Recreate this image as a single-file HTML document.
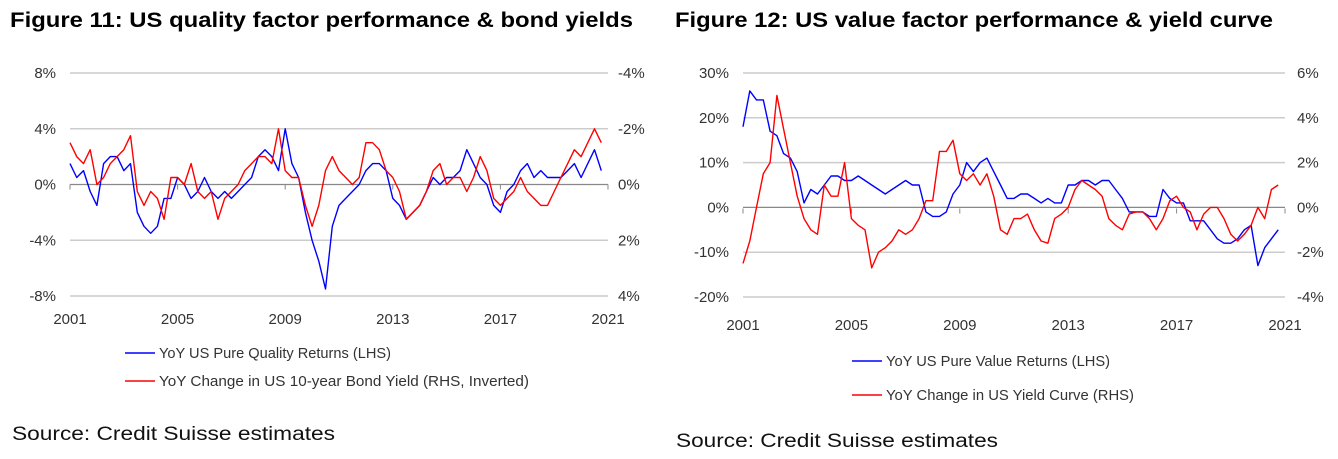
<!DOCTYPE html>
<html><head><meta charset="utf-8"><style>
body{margin:0;background:#fff;width:1338px;height:459px;overflow:hidden}
svg{display:block}
text{font-family:"Liberation Sans",sans-serif}
</style></head><body>
<svg id="s" width="1338" height="459">
<text x="10" y="27" font-size="21" font-weight="bold" fill="#000" textLength="623" lengthAdjust="spacingAndGlyphs">Figure 11: US quality factor performance &amp; bond yields</text>
<text x="675" y="27" font-size="21" font-weight="bold" fill="#000" textLength="598" lengthAdjust="spacingAndGlyphs">Figure 12: US value factor performance &amp; yield curve</text>
<text x="12" y="440" font-size="19" fill="#111" textLength="323" lengthAdjust="spacingAndGlyphs">Source: Credit Suisse estimates</text>
<text x="676" y="447" font-size="19" fill="#111" textLength="322" lengthAdjust="spacingAndGlyphs">Source: Credit Suisse estimates</text>
<g id="c1"></g>
<g id="c2"></g>
</svg>
<script>
const years=["2001","2005","2009","2013","2017","2021"];
const c1LeftTicks=["8%","4%","0%","-4%","-8%"];
const c1RightTicks=["-4%","-2%","0%","2%","4%"];
const c2LeftTicks=["30%","20%","10%","0%","-10%","-20%"];
const c2RightTicks=["6%","4%","2%","0%","-2%","-4%"];
const qualityReturns=[1.5,0.5,1.0,-0.5,-1.5,1.5,2.0,2.0,1.0,1.5,-2.0,-3.0,-3.5,-3.0,-1.0,-1.0,0.5,0,-1.0,-0.5,0.5,-0.5,-1.0,-0.5,-1.0,-0.5,0,0.5,2.0,2.5,2.0,1.0,4.0,1.5,0.5,-2.0,-4.0,-5.5,-7.5,-3.0,-1.5,-1.0,-0.5,0,1.0,1.5,1.5,1.0,-1.0,-1.5,-2.5,-2.0,-1.5,-0.5,0.5,0,0.5,0.5,1.0,2.5,1.5,0.5,0,-1.5,-2.0,-0.5,0,1.0,1.5,0.5,1.0,0.5,0.5,0.5,1.0,1.5,0.5,1.5,2.5,1.0];
const bondYieldChange=[-1.5,-1,-0.75,-1.25,0,-0.25,-0.75,-1,-1.25,-1.75,0.25,0.75,0.25,0.5,1.25,-0.25,-0.25,0,-0.75,0.25,0.5,0.25,1.25,0.5,0.25,0,-0.5,-0.75,-1,-1,-0.75,-2,-0.5,-0.25,-0.25,0.75,1.5,0.75,-0.5,-1,-0.5,-0.25,0,-0.25,-1.5,-1.5,-1.25,-0.5,-0.25,0.25,1.25,1,0.75,0.25,-0.5,-0.75,0,-0.25,-0.25,0.25,-0.25,-1,-0.5,0.5,0.75,0.5,0.25,-0.25,0.25,0.5,0.75,0.75,0.25,-0.25,-0.75,-1.25,-1,-1.5,-2,-1.5];
const valueReturns=[18,26,24,24,17,16,12,11,8,1,4,3,5,7,7,6,6,7,6,5,4,3,4,5,6,5,5,-1,-2,-2,-1,3,5,10,8,10,11,8,5,2,2,3,3,2,1,2,1,1,5,5,6,6,5,6,6,4,2,-1,-1,-1,-2,-2,4,2,1,1,-3,-3,-3,-5,-7,-8,-8,-7,-5,-4,-13,-9,-7,-5];
const curveChange=[-2.5,-1.5,0,1.5,2.0,5.0,3.5,2.0,0.5,-0.5,-1.0,-1.2,1.0,0.5,0.5,2.0,-0.5,-0.8,-1.0,-2.7,-2.0,-1.8,-1.5,-1.0,-1.2,-1.0,-0.5,0.3,0.3,2.5,2.5,3.0,1.5,1.2,1.5,1.0,1.5,0.5,-1.0,-1.2,-0.5,-0.5,-0.3,-1.0,-1.5,-1.6,-0.5,-0.3,0,0.8,1.2,1.0,0.8,0.5,-0.5,-0.8,-1.0,-0.3,-0.2,-0.2,-0.5,-1.0,-0.5,0.3,0.5,0,-0.2,-1.0,-0.3,0,0,-0.5,-1.2,-1.5,-1.2,-0.8,0,-0.5,0.8,1.0];
const NS="http://www.w3.org/2000/svg";
function mk(p,t,a){const e=document.createElementNS(NS,t);for(const k in a)e.setAttribute(k,a[k]);p.appendChild(e);return e;}
function chart(g,o){
  const xs=y=>o.x0+(y-2001)/20*(o.x1-o.x0);
  const yL=v=>o.yTop+(o.lMax-v)/(o.lMax-o.lMin)*(o.yBot-o.yTop);
  const yR=v=>o.yTop+(o.rMax-v)/(o.rMax-o.rMin)*(o.yBot-o.yTop);
  o.lt.forEach((t,i)=>{const y=o.yTop+i*(o.yBot-o.yTop)/(o.lt.length-1);
    const zero=(t==="0%");
    const gl=mk(g,"line",{x1:o.x0,x2:o.x1,y1:y,y2:y,stroke:zero?"#888":"#ccc","stroke-width":zero?1.2:1.5});
    
    
    const a=mk(g,"text",{x:o.x0-14,y:y+5,"font-size":15,fill:"#333","text-anchor":"end"});a.textContent=t;
    
    
    const b=mk(g,"text",{x:o.x1+(o.rOff||14),y:y+5,"font-size":15,fill:"#333","text-anchor":"start"});b.textContent=o.rt[i];
    
    
  });
  years.forEach(yr=>{const x=xs(+yr);
    const tk=mk(g,"line",{x1:x,x2:x,y1:o.zeroY,y2:o.zeroY+5,stroke:"#888"});
    
    
    const t=mk(g,"text",{x:x,y:o.xLabY,"font-size":15,fill:"#333","text-anchor":"middle"});t.textContent=yr;
    
    
  });
  const line=(arr,f,col,nm)=>{const d=arr.map((v,i)=>(i?"L":"M")+xs(2001+i*0.25).toFixed(1)+","+f(v).toFixed(1)).join("");
    const p=mk(g,"path",{d:d,fill:"none",stroke:col,"stroke-width":1.4,"stroke-linejoin":"round"});
    
    };
  line(o.blue,yL,"#0000ff",o.bn);
  line(o.red,yR,"#ff0000",o.rn);
  o.leg.forEach((L,i)=>{const y=o.legY+i*o.legGap;
    const sw=mk(g,"line",{x1:o.legX,x2:o.legX+30,y1:y,y2:y,stroke:L[1],"stroke-width":1.5});
    
    
    const t=mk(g,"text",{x:o.legX+34,y:y+5,"font-size":15,fill:"#333",textLength:L[2],lengthAdjust:"spacingAndGlyphs"});t.textContent=L[0];
    
    });
}
chart(document.getElementById("c1"),{x0:70,x1:608,yTop:73,yBot:296,zeroY:184.5,xLabY:324,lMax:8,lMin:-8,rMax:-4,rMin:4,lt:c1LeftTicks,rt:c1RightTicks,rOff:10,
 blue:qualityReturns,red:bondYieldChange,bn:"quality-returns-line",rn:"bond-yield-change-line",legX:125,legY:353,legGap:28,
 leg:[["YoY US Pure Quality Returns (LHS)","#0000ff",232],["YoY Change in US 10-year Bond Yield (RHS, Inverted)","#ff0000",370]]});
chart(document.getElementById("c2"),{x0:743,x1:1285,yTop:73,yBot:297,zeroY:208.5,xLabY:330,lMax:30,lMin:-20,rMax:6,rMin:-4,lt:c2LeftTicks,rt:c2RightTicks,rOff:12,
 blue:valueReturns,red:curveChange,bn:"value-returns-line",rn:"yield-curve-change-line",legX:852,legY:361,legGap:34,
 leg:[["YoY US Pure Value Returns (LHS)","#0000ff",224],["YoY Change in US Yield Curve (RHS)","#ff0000",248]]});
</script>
</body></html>
